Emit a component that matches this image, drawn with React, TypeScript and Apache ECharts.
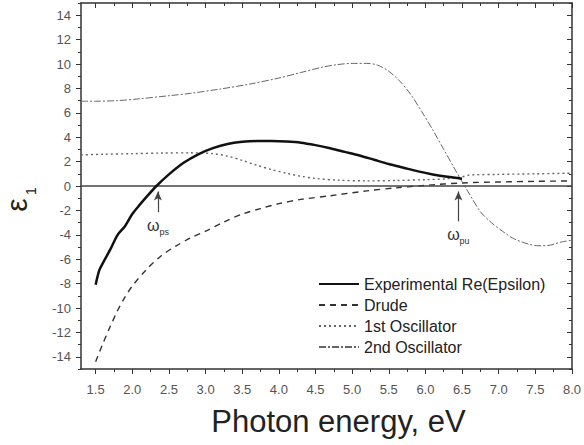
import React, { useEffect, useRef } from "react";
import * as echarts from "echarts";

const FONT = '"Liberation Sans", Arial, Helvetica, sans-serif';

const xMajorTicks = [1.5, 2.0, 2.5, 3.0, 3.5, 4.0, 4.5, 5.0, 5.5, 6.0, 6.5, 7.0, 7.5, 8.0];
const yMajorTicks = [-14, -12, -10, -8, -6, -4, -2, 0, 2, 4, 6, 8, 10, 12, 14];
const xMinorTicks: number[] = [];
for (let i = 0; i <= 26; i++) xMinorTicks.push(1.5 + i * 0.25);
const yMinorTicks: number[] = [];
for (let i = -15; i <= 15; i++) yMinorTicks.push(i);

const seriesNames = ["Experimental Re(Epsilon)", "Drude", "1st Oscillator", "2nd Oscillator"];

const expX = [1.5, 1.55, 1.6, 1.7, 1.8, 1.9, 2.0, 2.1, 2.2, 2.33, 2.5, 2.7, 2.9, 3.1, 3.3, 3.5, 3.7, 3.9, 4.1, 4.3, 4.5, 4.7, 4.9, 5.1, 5.3, 5.5, 5.7, 5.9, 6.1, 6.3, 6.5];
const expY = [-8.1, -6.9, -6.3, -5.2, -4.0, -3.3, -2.3, -1.55, -0.85, 0.0, 0.95, 1.9, 2.6, 3.1, 3.45, 3.62, 3.68, 3.68, 3.64, 3.55, 3.35, 3.1, 2.8, 2.5, 2.15, 1.8, 1.5, 1.2, 0.95, 0.75, 0.6];

const drudeX = [1.5, 1.6, 1.7, 1.8, 1.9, 2.0, 2.2, 2.4, 2.6, 2.8, 3.0, 3.25, 3.5, 3.75, 4.0, 4.3, 4.7, 5.2, 5.6, 6.0, 6.5, 7.0, 7.5, 8.0];
const drudeY = [-14.4, -12.9, -11.5, -10.2, -9.1, -8.2, -6.8, -5.7, -4.9, -4.25, -3.7, -2.95, -2.3, -1.85, -1.45, -1.1, -0.8, -0.4, -0.15, 0.05, 0.25, 0.33, 0.38, 0.42];

const osc1X = [1.3, 1.6, 2.0, 2.4, 2.8, 3.1, 3.3, 3.5, 3.7, 3.9, 4.1, 4.3, 4.5, 4.8, 5.2, 5.6, 6.0, 6.3, 6.5, 6.6, 7.0, 7.5, 8.0];
const osc1Y = [2.55, 2.6, 2.65, 2.7, 2.72, 2.65, 2.45, 2.1, 1.7, 1.35, 1.05, 0.8, 0.62, 0.48, 0.42, 0.45, 0.52, 0.6, 0.75, 0.9, 0.95, 1.0, 1.05];

const osc2X = [1.3, 1.5, 1.8, 2.1, 2.5, 2.8, 3.2, 3.6, 4.0, 4.3, 4.6, 4.8, 5.0, 5.2, 5.35, 5.5, 5.65, 5.8, 5.95, 6.1, 6.25, 6.4, 6.5, 6.6, 6.75, 6.9, 7.05, 7.2, 7.4, 7.55, 7.7, 7.85, 8.0];
const osc2Y = [6.95, 6.95, 7.0, 7.15, 7.4, 7.6, 7.95, 8.35, 8.85, 9.3, 9.75, 9.95, 10.05, 10.05, 9.9, 9.4, 8.6, 7.5, 6.1, 4.6, 3.0, 1.4, 0.35, -0.65, -2.1, -3.0, -3.7, -4.3, -4.75, -4.9, -4.85, -4.6, -4.45];

// plasma frequency annotations
const arrowX = [2.35, 6.45];
const arrowFrom = [-2.15, -2.9];
const arrowTo = [-0.45, -0.45];
const arrowSub = ["ps", "pu"];

const X_MIN = 1.3;
const X_MAX = 8.0;
const Y_MIN = -15;
const Y_MAX = 15;

const zip = (xs: number[], ys: number[]) => xs.map((x, i) => [x, ys[i]]);

const AX = "#333";

function makeX(position: string, ticks: number[], len: number, inside: boolean, main: boolean) {
  return {
    type: "value",
    position,
    min: X_MIN,
    max: X_MAX,
    splitLine: { show: false },
    axisLine: { show: main, onZero: false, lineStyle: { color: AX, width: 1.5 } },
    axisTick: { show: true, customValues: ticks, length: len, inside, lineStyle: { color: AX, width: 1 } },
    axisLabel: { show: false },
  } as any;
}

function makeY(position: string, ticks: number[], len: number, inside: boolean, main: boolean) {
  return {
    type: "value",
    position,
    min: Y_MIN,
    max: Y_MAX,
    splitLine: { show: false },
    axisLine: { show: main, onZero: false, lineStyle: { color: AX, width: 1.5 } },
    axisTick: { show: true, customValues: ticks, length: len, inside, lineStyle: { color: AX, width: 1 } },
    axisLabel: { show: false },
  } as any;
}

export default function App() {
  const ref = useRef<HTMLDivElement>(null);
  useEffect(() => {
    if (!ref.current) return;
    const chart = echarts.init(ref.current, undefined, { renderer: "svg" });

    const xBottom = makeX("bottom", xMajorTicks, 5, false, true);
    xBottom.axisLabel = {
      show: true,
      customValues: xMajorTicks,
      formatter: (v: number) => v.toFixed(1),
      fontSize: 13,
      color: "#555",
      fontFamily: FONT,
      margin: 14,
    };
    xBottom.name = "Photon energy, eV";
    xBottom.nameLocation = "middle";
    xBottom.nameGap = 37;
    xBottom.nameTextStyle = { fontSize: 31, color: "#222", fontFamily: FONT, padding: [0, 0, 0, 24] };

    const yLeft = makeY("left", yMajorTicks, 5, false, true);
    yLeft.axisLabel = {
      show: true,
      customValues: yMajorTicks,
      fontSize: 13,
      color: "#555",
      fontFamily: FONT,
      margin: 10,
    };

    const arrowData = arrowX.map((x, i) => [
      {
        coord: [x, arrowFrom[i]],
        label: {
          show: true,
          position: "start",
          distance: 3,
          formatter: "{w|ω}{s|" + arrowSub[i] + "}",
          rich: {
            w: { fontSize: 16, color: "#333", fontFamily: FONT },
            s: { fontSize: 9, color: "#333", fontFamily: FONT, padding: [12, 0, 0, 0] },
          },
        },
      },
      { coord: [x, arrowTo[i]] },
    ]);

    const option: any = {
      animation: false,
      textStyle: { fontFamily: FONT },
      grid: { left: 81, right: 10, top: 3, bottom: 76, containLabel: false },
      xAxis: [
        xBottom,
        makeX("bottom", xMinorTicks, 3, false, false),
        makeX("top", xMajorTicks, 5, true, true),
        makeX("top", xMinorTicks, 3, true, false),
      ],
      yAxis: [
        yLeft,
        makeY("left", yMinorTicks, 3, false, false),
        makeY("right", yMajorTicks, 5, true, true),
        makeY("right", yMinorTicks, 3, true, false),
      ],
      legend: {
        orient: "vertical",
        left: 318,
        top: 276,
        padding: 0,
        itemWidth: 40,
        itemHeight: 14,
        itemGap: 5,
        itemStyle: { opacity: 0 },
        textStyle: { fontSize: 16, lineHeight: 16, color: "#222", fontFamily: FONT },
        data: seriesNames,
      },
      series: [
        {
          name: seriesNames[0],
          type: "line",
          data: zip(expX, expY),
          symbol: "none",
          smooth: 0.3,
          lineStyle: { color: "#111", width: 2.5, type: "solid" },
          itemStyle: { color: "#111" },
          z: 5,
          markLine: {
            silent: true,
            symbol: ["none", "arrow"],
            symbolSize: [6, 9],
            lineStyle: { color: "#444", width: 1.2, type: "solid" },
            label: { show: false },
            data: arrowData,
          },
        },
        {
          name: seriesNames[1],
          type: "line",
          data: zip(drudeX, drudeY),
          symbol: "none",
          smooth: 0.3,
          lineStyle: { color: "#333", width: 1.4, type: [6, 5] },
          itemStyle: { color: "#333" },
          markLine: {
            silent: true,
            symbol: "none",
            lineStyle: { color: "#444", width: 1.5, type: "solid" },
            label: { show: false },
            data: [{ yAxis: 0 }],
          },
        },
        {
          name: seriesNames[2],
          type: "line",
          data: zip(osc1X, osc1Y),
          symbol: "none",
          smooth: 0.3,
          lineStyle: { color: "#666", width: 1.4, type: [2, 3] },
          itemStyle: { color: "#666" },
        },
        {
          name: seriesNames[3],
          type: "line",
          data: zip(osc2X, osc2Y),
          symbol: "none",
          smooth: 0.3,
          lineStyle: { color: "#666", width: 1, type: [7, 2, 2, 2] },
          itemStyle: { color: "#666" },
        },
      ],
      graphic: [
        {
          type: "text",
          x: 16,
          y: 205,
          rotation: Math.PI / 2,
          style: {
            text: "ε",
            fontSize: 30,
            fontFamily: FONT,
            fill: "#222",
            align: "center",
            verticalAlign: "middle",
          },
        },
        {
          type: "text",
          x: 31,
          y: 191,
          rotation: Math.PI / 2,
          style: {
            text: "1",
            fontSize: 14,
            fontFamily: FONT,
            fill: "#222",
            align: "center",
            verticalAlign: "middle",
          },
        },
      ],
    };
    chart.setOption(option);
    return () => chart.dispose();
  }, []);
  return <div ref={ref} style={{ width: 584, height: 445, position: "absolute", left: 0, top: 0 }} />;
}
